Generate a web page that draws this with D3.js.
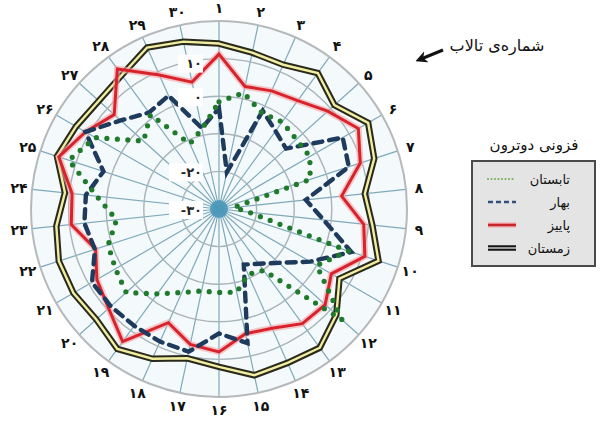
<!DOCTYPE html>
<html>
<head>
<meta charset="utf-8">
<script src="https://cdn.jsdelivr.net/npm/d3@7"></script>
<style>
  html, body { margin: 0; padding: 0; background: #ffffff; }
  svg { display: block; }
  text { font-family: "DejaVu Sans", sans-serif; }
</style>
</head>
<body>
<svg id="chart" width="604" height="423"></svg>
<script>
// Pond numbers around the radar (1..30)
const ponds = d3.range(1, 31);

// Deuterium excess per pond, by season
const summer = [-1.5, 1.6, -2, -1.4, -2.3, -2.1, -4.5, -26, -22, 6.2, 0, 14, -9.8, -11, -7.4, -7.8, -7.7, -5.7, -2.1, 3.2, 1.8, 1, -2.6, 2.7, 12, 8, -3, 1, -11, -8.2];
const spring = [-3.2, -20, -1.4, -4.4, -6, 8, 6.3, -6.8, -2, 7, -2, -8.6, -12, -13.8, 6.5, 3.1, 8.8, 8.6, 8.4, 8.7, 9, 4.7, 6, 5.6, 2.3, 11, 5.2, 1.7, 3, -8];
const autumn = [11.2, 3.3, 4.4, 5.6, 8.9, 12.8, 9.5, 2.8, 8.7, 10.8, 4.5, 8, 7.7, 4.7, 3.9, 8, 6.8, 3.1, 13.6, 9.5, 7.5, 4.5, 9.5, 9.3, 14.8, 11, 7.5, 16, 9, 4.5];
const winter = [14, 12.5, 12, 14.7, 11.3, 15.8, 13.4, 9, 11, 14.6, 7, 12, 15.6, 14.8, 15.2, 12, 10.6, 13.6, 16, 13.9, 14.7, 14.8, 13.5, 11.2, 15.3, 13.9, 13, 14, 17, 15.5];

// Radial axis
const radialDomain = [-30, 20];
const gridValues = [-20, -10, 0, 10, 20];
const tickLabels = [-30, -20, 0, 10];

// Season names for the legend
const seasonNames = ["تابستان", "بهار", "پاییز", "زمستان"];
const legendTitle = "فزونی دوترون";
const pondTitle = "شماره‌ی تالاب";

const faDigits = "۰۱۲۳۴۵۶۷۸۹";
const fa = v => String(v).replace(/\d/g, d => faDigits[+d]);

const svg = d3.select("#chart");
const cx = 219, cy = 209;
const r = d3.scaleLinear().domain(radialDomain).range([0, 188]);
const angle = d3.scaleLinear().domain([0, ponds.length]).range([0, 2 * Math.PI]);

const g = svg.append("g").attr("transform", `translate(${cx},${cy})`);

// Plot background
g.append("circle").attr("r", r(20)).attr("fill", "#f4f9fb");

// Spokes
g.selectAll("line.spoke").data(ponds).join("line")
  .attr("class", "spoke")
  .attr("x1", 0).attr("y1", 0)
  .attr("x2", (d, i) => r(20) * Math.sin(angle(i)))
  .attr("y2", (d, i) => -r(20) * Math.cos(angle(i)))
  .attr("stroke", "#7ea9ba").attr("stroke-width", 1.2);

// Rings
g.selectAll("circle.ring").data(gridValues).join("circle")
  .attr("class", "ring")
  .attr("r", d => r(d))
  .attr("fill", "none")
  .attr("stroke", d => d === 20 ? "#b5b9bb" : "#a7b4b9")
  .attr("stroke-width", d => d === 20 ? 2 : 1.4);

// Hub
g.append("circle").attr("r", 9).attr("fill", "#3f93b8").attr("opacity", 0.8);

// Series lines
const radial = d3.lineRadial()
  .angle((d, i) => angle(i))
  .radius(d => r(d))
  .curve(d3.curveLinearClosed);

// winter: double line
g.append("path").attr("d", radial(winter)).attr("fill", "none")
  .attr("stroke", "#2a2a1c").attr("stroke-width", 6.5).attr("stroke-linejoin", "miter");
g.append("path").attr("d", radial(winter)).attr("fill", "none")
  .attr("stroke", "#f1eea2").attr("stroke-width", 2.4).attr("stroke-linejoin", "miter");

// autumn: red with soft glow
g.append("path").attr("d", radial(autumn)).attr("fill", "none")
  .attr("stroke", "#f2a3a6").attr("stroke-width", 6.5).attr("opacity", 0.6);
g.append("path").attr("d", radial(autumn)).attr("fill", "none")
  .attr("stroke", "#d8232c").attr("stroke-width", 3);

// spring: navy dashes
g.append("path").attr("d", radial(spring)).attr("fill", "none")
  .attr("stroke", "#1e3a5c").attr("stroke-width", 4.4)
  .attr("stroke-dasharray", "9,7").attr("stroke-linecap", "round");

// summer: green dots
g.append("path").attr("d", radial(summer)).attr("fill", "none")
  .attr("stroke", "#1f7a2c").attr("stroke-width", 5.2)
  .attr("stroke-dasharray", "0,10.5").attr("stroke-linecap", "round");

// Radial tick labels with white backing
const tl = g.selectAll("g.tick").data(tickLabels).join("g")
  .attr("class", "tick")
  .attr("transform", d => `translate(-17,${-r(d) + (d === 10 ? 5 : 1)})`);
tl.append("rect")
  .attr("x", d => d < 0 ? -33 : -24).attr("y", -9)
  .attr("width", d => d < 0 ? 34 : 25).attr("height", 18)
  .attr("fill", "#ffffff");
tl.append("text")
  .attr("text-anchor", "end").attr("dominant-baseline", "central")
  .attr("font-size", 13).attr("font-weight", "bold").attr("fill", "#222")
  .text(d => d < 0 ? "-" + fa(Math.abs(d)) : fa(d));

// Pond labels
g.selectAll("text.pond").data(ponds).join("text")
  .attr("class", "pond")
  .attr("x", (d, i) => 201 * Math.sin(angle(i)))
  .attr("y", (d, i) => -201 * Math.cos(angle(i)))
  .attr("text-anchor", "middle").attr("dominant-baseline", "central")
  .attr("font-size", 14).attr("font-weight", "bold").attr("fill", "#111")
  .text(d => fa(d));

// Pond-number caption with arrow
svg.append("defs").append("marker")
  .attr("id", "arrowhead").attr("viewBox", "0 0 10 10")
  .attr("refX", 5).attr("refY", 5)
  .attr("markerWidth", 4).attr("markerHeight", 4).attr("orient", "auto")
  .append("path").attr("d", "M0,0 L10,5 L0,10 L3,5 Z").attr("fill", "#111");
svg.append("line")
  .attr("x1", 443).attr("y1", 50).attr("x2", 421).attr("y2", 59)
  .attr("stroke", "#111").attr("stroke-width", 3)
  .attr("marker-end", "url(#arrowhead)");
svg.append("text")
  .attr("x", 497).attr("y", 45)
  .attr("text-anchor", "middle").attr("dominant-baseline", "central")
  .attr("font-size", 16).attr("fill", "#111")
  .text(pondTitle);

// Legend
const lg = svg.append("g").attr("transform", "translate(472,161)");
lg.append("text")
  .attr("x", 62).attr("y", -16)
  .attr("text-anchor", "middle").attr("dominant-baseline", "central")
  .attr("font-size", 15).attr("fill", "#111")
  .text(legendTitle);
lg.append("rect")
  .attr("x", 0).attr("y", 0).attr("width", 123).attr("height", 105)
  .attr("fill", "#e4e4e4").attr("stroke", "#4a4a4a").attr("stroke-width", 2);

const rowY = [18, 41, 64, 87];
const items = lg.selectAll("g.item").data(seasonNames).join("g")
  .attr("class", "item")
  .attr("transform", (d, i) => `translate(0,${rowY[i]})`);
items.append("text")
  .attr("x", 98).attr("y", 0)
  .attr("text-anchor", "end").attr("dominant-baseline", "central")
  .attr("font-size", 13).attr("fill", "#111")
  .text(d => d);

const lx1 = 16, lx2 = 44;
// summer sample
items.filter((d, i) => i === 0).append("line")
  .attr("x1", lx1).attr("x2", lx2).attr("y1", 0).attr("y2", 0)
  .attr("stroke", "#6fae4a").attr("stroke-width", 2)
  .attr("stroke-dasharray", "0,3.5").attr("stroke-linecap", "round");
// spring sample
items.filter((d, i) => i === 1).append("line")
  .attr("x1", lx1).attr("x2", lx2).attr("y1", 0).attr("y2", 0)
  .attr("stroke", "#35507a").attr("stroke-width", 2.6)
  .attr("stroke-dasharray", "5,3");
// autumn sample
const au = items.filter((d, i) => i === 2);
au.append("line").attr("x1", lx1).attr("x2", lx2).attr("y1", 0).attr("y2", 0)
  .attr("stroke", "#f2a3a6").attr("stroke-width", 5);
au.append("line").attr("x1", lx1).attr("x2", lx2).attr("y1", 0).attr("y2", 0)
  .attr("stroke", "#c8262d").attr("stroke-width", 2.4);
// winter sample
const wi = items.filter((d, i) => i === 3);
wi.append("line").attr("x1", lx1).attr("x2", lx2).attr("y1", 0).attr("y2", 0)
  .attr("stroke", "#151515").attr("stroke-width", 5.5);
wi.append("line").attr("x1", lx1).attr("x2", lx2).attr("y1", 0).attr("y2", 0)
  .attr("stroke", "#e4e4e4").attr("stroke-width", 1.3);
</script>
</body>
</html>
